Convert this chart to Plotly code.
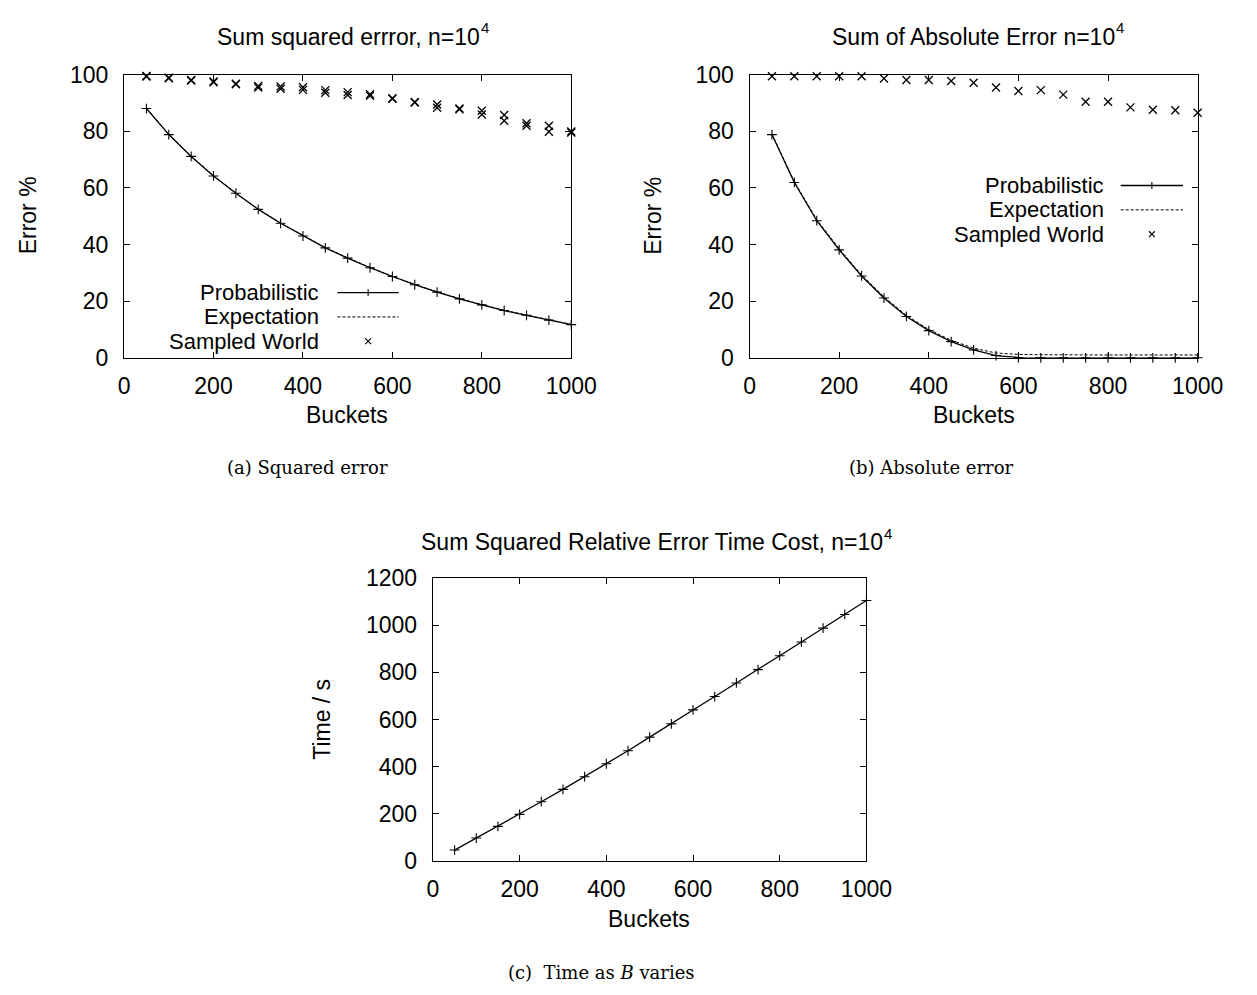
import plotly.graph_objects as go

# data
buckets = [50, 100, 150, 200, 250, 300, 350, 400, 450, 500,
           550, 600, 650, 700, 750, 800, 850, 900, 950, 1000]

# (a) sum squared error, %
sq_prob = [88.0, 78.8, 71.1, 64.2, 58.1, 52.4, 47.5, 43.0, 38.8, 35.2,
           31.8, 28.7, 25.8, 23.2, 20.8, 18.7, 16.7, 15.0, 13.3, 11.7]
sq_expect = [88.1, 78.9, 71.2, 64.3, 58.2, 52.5, 47.6, 43.1, 38.9, 35.3,
             31.9, 28.8, 25.9, 23.3, 20.9, 18.8, 16.8, 15.1, 13.4, 11.8]
sq_sample_a = [99.5, 98.9, 98.1, 97.6, 96.8, 96.0, 95.8, 95.5, 94.5, 93.8,
               93.1, 91.6, 90.3, 89.4, 88.0, 87.2, 85.7, 82.8, 81.9, 79.9]
sq_sample_b = [99.3, 98.7, 97.9, 97.3, 96.6, 95.4, 95.0, 94.6, 93.6, 92.8,
               92.5, 91.4, 90.1, 88.3, 87.7, 85.9, 83.7, 81.9, 79.8, 79.5]

# (b) sum of absolute error, %
abs_prob = [78.8, 61.9, 48.4, 38.1, 28.9, 21.1, 14.6, 9.6, 5.7, 2.8,
            0.8, 0.1, 0.0, 0.0, 0.0, 0.0, 0.0, 0.0, 0.0, 0.0]
abs_expect = [79.0, 62.2, 48.8, 38.5, 29.3, 21.5, 15.0, 10.0, 6.2, 3.4,
              1.7, 1.2, 1.1, 1.0, 1.0, 1.0, 1.0, 1.0, 1.0, 1.0]
abs_sample = [99.4, 99.4, 99.4, 99.4, 99.4, 98.6, 98.1, 98.1, 97.7, 97.1,
              95.4, 94.2, 94.5, 92.9, 90.4, 90.4, 88.4, 87.6, 87.4, 86.5]

# (c) time cost, seconds
time_prob = [46.7, 97.6, 147.0, 198.0, 251.5, 303.8, 357.4, 412.4, 467.4, 525.1,
             581.4, 640.5, 696.9, 754.6, 811.0, 870.1, 927.8, 987.0, 1044.7, 1103.8]

key_labels = ["Probabilistic", "Expectation", "Sampled World"]

# the page body keeps its 8px margin, so the figure is 16px smaller than the window
PAGE = 8
W, H = 1257 - 2 * PAGE, 995 - 2 * PAGE
SANS = "Liberation Sans, Arial, sans-serif"
SERIF = "DejaVu Serif, serif"
FS = 23


def px(x):
    return (x - PAGE) / W


def py(y):
    return 1 - (y - PAGE) / H


def prob_trace(x, y, xa, ya):
    return go.Scatter(x=x, y=y, xaxis=xa, yaxis=ya, mode="lines+markers",
                      line=dict(color="black", width=1.3),
                      marker=dict(symbol="cross-thin-open", size=7, color="black",
                                  line=dict(color="black", width=1.1)),
                      cliponaxis=False, showlegend=False)


def expect_trace(x, y, xa, ya):
    return go.Scatter(x=x, y=y, xaxis=xa, yaxis=ya, mode="lines",
                      line=dict(color="black", width=1, dash="3px,2px"),
                      cliponaxis=False, showlegend=False)


def sample_trace(x, y, xa, ya):
    return go.Scatter(x=x, y=y, xaxis=xa, yaxis=ya, mode="markers",
                      marker=dict(symbol="x-thin-open", size=8, color="black",
                                  line=dict(color="black", width=1.3)),
                      cliponaxis=False, showlegend=False)


fig = go.Figure()
fig.add_trace(prob_trace(buckets, sq_prob, "x", "y"))
fig.add_trace(expect_trace(buckets, sq_expect, "x", "y"))
fig.add_trace(sample_trace(buckets, sq_sample_a, "x", "y"))
fig.add_trace(sample_trace(buckets, sq_sample_b, "x", "y"))

fig.add_trace(prob_trace(buckets, abs_prob, "x2", "y2"))
fig.add_trace(expect_trace(buckets, abs_expect, "x2", "y2"))
fig.add_trace(sample_trace(buckets, abs_sample, "x2", "y2"))

fig.add_trace(prob_trace(buckets, time_prob, "x3", "y3"))

axis_style = dict(showline=True, linecolor="black", linewidth=1.3, mirror="ticks",
                  ticks="inside", ticklen=6, tickwidth=1, tickcolor="black",
                  showgrid=False, zeroline=False,
                  tickfont=dict(family=SANS, size=FS, color="black"))

# pixel boxes of the three plot areas in the window: (left, right, top, bottom)
boxes = [(121, 580, 63, 354), (763, 1223, 63, 354), (438, 883, 580, 871)]
yranges = [[0, 100], [0, 100], [0, 1200]]
ydticks = [20, 20, 200]

layout_axes = {}
for i, (l, r, t, b) in enumerate(boxes):
    sfx = "" if i == 0 else str(i + 1)
    layout_axes["xaxis" + sfx] = dict(axis_style, domain=[px(l), px(r)], range=[0, 1000],
                                      dtick=200, anchor="y" + sfx, ticklabelstandoff=7)
    layout_axes["yaxis" + sfx] = dict(axis_style, domain=[py(b), py(t)], range=yranges[i],
                                      dtick=ydticks[i], anchor="x" + sfx, ticklabelstandoff=10)

ann = []


def text(x, y, s, size=FS, family=SANS, xanchor="center", angle=0, pad=1):
    ann.append(dict(x=px(x), y=py(y), xref="paper", yref="paper", text=s, showarrow=False,
                    xanchor=xanchor, yanchor="middle", textangle=angle,
                    borderpad=pad, borderwidth=pad,
                    font=dict(family=family, size=size, color="black")))


# titles, with the exponent set as a small raised label after the text
for right, ty, s in [(486, 24, "Sum squared errror, n=10"),
                     (1138, 24, "Sum of Absolute Error n=10"),
                     (900, 543, "Sum Squared Relative Error Time Cost, n=10")]:
    text(right, ty, s, xanchor="right", pad=0)
    text(right + 1, ty - 9, "4", size=15, xanchor="left", pad=0)

# axis titles
text(350, 413, "Buckets")
text(993, 413, "Buckets")
text(660, 931, "Buckets")
text(22, 208, "Error %", angle=-90)
text(664, 208, "Error %", angle=-90)
text(324, 725, "Time / s", angle=-90)

# captions
text(309, 467, "(a) Squared error", size=18, family=SERIF)
text(950, 467, "(b) Absolute error", size=18, family=SERIF)
text(611, 985, "(c)  Time as <i>B</i> varies", size=18, family=SERIF)


# gnuplot-style keys: label on the left, sample on the right
shapes = []


def seg(x0, y0, x1, y1, width=1.2, dash="solid"):
    shapes.append(dict(type="line", xref="paper", yref="paper",
                       x0=px(x0), y0=py(y0), x1=px(x1), y1=py(y1),
                       line=dict(color="black", width=width, dash=dash)))


keys = [(323, 340, 403, [287, 312, 337]), (1129, 1144, 1208, [177, 202, 227])]
for tx, x0, x1, rows in keys:
    for lab, ry in zip(key_labels, rows):
        text(tx, ry, lab, size=22, xanchor="right")
    mid = (x0 + x1) / 2
    seg(x0, rows[0], x1, rows[0], width=1.3)
    seg(mid, rows[0] - 3.5, mid, rows[0] + 3.5, width=1.1)
    seg(x0, rows[1], x1, rows[1], width=1, dash="3px,2px")
    seg(mid - 3, rows[2] - 3, mid + 3, rows[2] + 3, width=1.1)
    seg(mid - 3, rows[2] + 3, mid + 3, rows[2] - 3, width=1.1)

fig.update_layout(
    width=W, height=H,
    margin=dict(l=0, r=0, t=0, b=0),
    paper_bgcolor="white", plot_bgcolor="white",
    showlegend=False,
    annotations=ann, shapes=shapes,
    **layout_axes,
)

fig.write_html("out.html")
